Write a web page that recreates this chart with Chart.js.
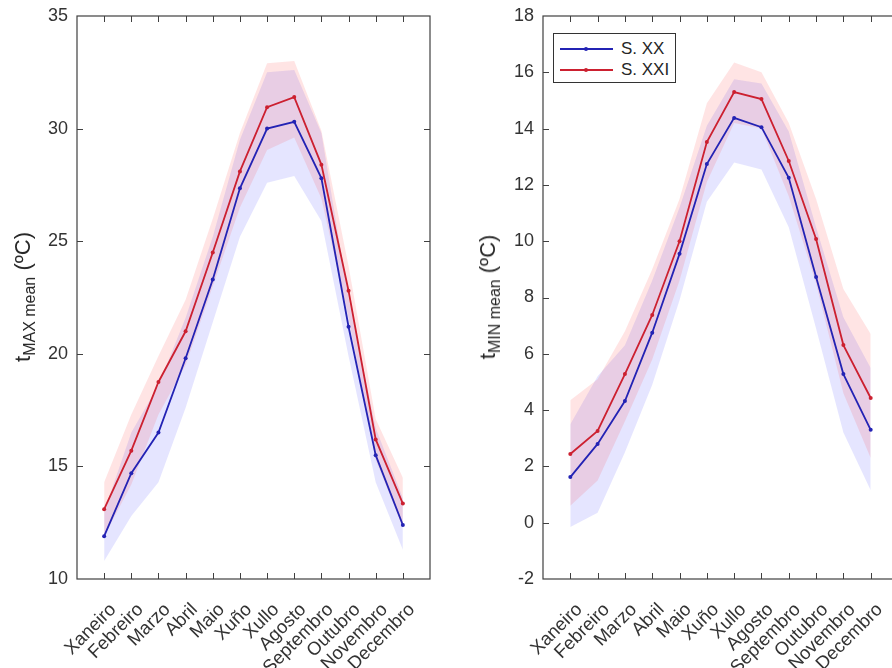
<!DOCTYPE html>
<html>
<head>
<meta charset="utf-8">
<script src="https://cdn.jsdelivr.net/npm/chart.js@4/dist/chart.umd.min.js"></script>
<style>
  html, body { margin:0; padding:0; background:#fff; overflow:hidden; width:892px; height:668px; }
  body { position:relative; font-family:"Liberation Sans", Arial, sans-serif; }
  canvas { position:absolute; top:0; }
  .ytitle { position:absolute; white-space:nowrap; color:#262626; font-size:22px;
            transform: translate(-50%,-50%) rotate(-90deg); line-height:1; }
  .ytitle sub { font-size:16px; vertical-align:-5px; }
  #legend { position:absolute; left:553px; top:33px; width:121px; height:48px;
            border:1px solid #333; background:#fff; font-size:17px; color:#262626; }
  .row { position:absolute; left:0; height:20px; width:121px; }
  .row .ln { position:absolute; left:6px; top:9px; width:53px; height:2px; }
  .row .dot { position:absolute; left:24px; top:-1px; width:4px; height:4px; border-radius:2px; }
  .row .tx { position:absolute; left:67px; top:0px; }
</style>
</head>
<body>
<canvas id="c1" width="446" height="668" style="left:0px"></canvas>
<canvas id="c2" width="460" height="668" style="left:446px"></canvas>
<div class="ytitle" style="left:25px; top:297px;">t<sub>MAX mean</sub> (ºC)</div>
<div class="ytitle" style="left:490px; top:297px;">t<sub>MIN mean</sub> (ºC)</div>
<div id="legend">
  <div class="row" style="top:5px"><div class="ln" style="background:#2323b4"><div class="dot" style="background:#2323b4"></div></div><span class="tx">S. XX</span></div>
  <div class="row" style="top:26px"><div class="ln" style="background:#cc2030"><div class="dot" style="background:#cc2030"></div></div><span class="tx">S. XXI</span></div>
</div>
<script>
// ---- data ----
const months = ['Xaneiro','Febreiro','Marzo','Abril','Maio','Xuño','Xullo','Agosto','Septembro','Outubro','Novembro','Decembro'];

const tmaxXX      = [11.9, 14.7, 16.5, 19.8, 23.3, 27.35, 30.0, 30.3, 27.8, 21.2, 15.5, 12.4];
const tmaxXXlow   = [10.8, 12.8, 14.3, 17.6, 21.4, 25.2, 27.6, 27.9, 25.9, 19.9, 14.3, 11.3];
const tmaxXXhigh  = [13.0, 16.5, 18.6, 21.6, 25.2, 29.5, 32.5, 32.6, 29.8, 22.5, 16.7, 13.6];
const tmaxXXI     = [13.1, 15.7, 18.75, 21.0, 24.5, 28.1, 30.95, 31.4, 28.4, 22.8, 16.2, 13.35];
const tmaxXXIlow  = [11.9, 14.2, 17.3, 19.5, 23.0, 26.5, 29.05, 29.6, 26.9, 21.6, 15.3, 12.3];
const tmaxXXIhigh = [14.3, 17.3, 19.9, 22.4, 26.0, 29.8, 32.9, 33.0, 29.9, 23.9, 17.1, 14.5];

const tminXX      = [1.62, 2.8, 4.32, 6.75, 9.55, 12.74, 14.38, 14.05, 12.25, 8.73, 5.28, 3.3];
const tminXXlow   = [-0.15, 0.35, 2.5, 4.9, 7.9, 11.4, 12.8, 12.55, 10.5, 6.9, 3.2, 1.15];
const tminXXhigh  = [3.5, 5.2, 6.3, 8.6, 11.2, 14.1, 15.75, 15.6, 13.9, 10.5, 7.3, 5.5];
const tminXXI     = [2.44, 3.26, 5.28, 7.38, 10.0, 13.52, 15.3, 15.05, 12.85, 10.08, 6.31, 4.43];
const tminXXIlow  = [0.6, 1.5, 3.6, 5.8, 8.6, 12.1, 14.2, 14.0, 11.6, 8.5, 4.6, 2.3];
const tminXXIhigh = [4.35, 5.1, 6.8, 9.0, 11.5, 14.9, 16.35, 16.0, 14.2, 11.5, 8.3, 6.7];

const tmaxTicks = {min:10, max:35, step:5};
const tminTicks = {min:-2, max:18, step:2};

// ---- styling ----
const BLUE = '#2323b4', RED = '#cc2030';
const BLUE_BAND = 'rgba(40,40,255,0.12)', RED_BAND = 'rgba(255,30,30,0.12)';
const AXIS = '#404040', TXT = '#333333';
const FAM = '"Liberation Sans", Arial, sans-serif';

function pts(arr){ return arr.map((v,i)=>({x:i+1, y:v})); }

function band(hi, lo, color, order){
  return [
    {data:pts(hi), borderWidth:0, pointRadius:0, fill:'+1', backgroundColor:color, order:order},
    {data:pts(lo), borderWidth:0, pointRadius:0, fill:false, order:order+1}
  ];
}
function line(arr, color, order){
  return {data:pts(arr), borderColor:color, backgroundColor:color, borderWidth:1.8,
          pointRadius:2, pointHoverRadius:2, pointBackgroundColor:color, pointBorderWidth:0,
          fill:false, tension:0, order:order};
}

// MATLAB-like box with inward tick marks, positioned through the chart's own scales
const boxPlugin = {
  id:'boxTicks',
  afterDraw(chart){
    const {ctx, chartArea:a, scales:{x, y}} = chart;
    const L = 6;
    ctx.save();
    ctx.strokeStyle = AXIS; ctx.lineWidth = 1.2;
    ctx.strokeRect(a.left, a.top, a.right - a.left, a.bottom - a.top);
    ctx.lineWidth = 1;
    ctx.beginPath();
    x.ticks.forEach(t => {
      if (t.value <= x.min || t.value >= x.max) return;
      const px = Math.round(x.getPixelForValue(t.value)) + 0.5;
      ctx.moveTo(px, a.bottom); ctx.lineTo(px, a.bottom - L);
      ctx.moveTo(px, a.top); ctx.lineTo(px, a.top + L);
    });
    y.ticks.forEach(t => {
      if (t.value <= y.min || t.value >= y.max) return;
      const py = Math.round(y.getPixelForValue(t.value)) + 0.5;
      ctx.moveTo(a.left, py); ctx.lineTo(a.left + L, py);
      ctx.moveTo(a.right, py); ctx.lineTo(a.right - L, py);
    });
    ctx.stroke();
    ctx.restore();
  }
};

function zeroPad(s){ s.paddingLeft = 0; s.paddingRight = 0; s.paddingTop = 0; s.paddingBottom = 0; }

function makeChart(id, yt, sXX, sXXlo, sXXhi, sXXI, sXXIlo, sXXIhi, leftW, rightPad){
  const datasets = [
    ...band(sXXhi, sXXlo, BLUE_BAND, 20),
    ...band(sXXIhi, sXXIlo, RED_BAND, 10),
    line(sXX, BLUE, 2),
    line(sXXI, RED, 1)
  ];
  return new Chart(document.getElementById(id), {
    type:'line',
    data:{datasets},
    plugins:[boxPlugin],
    options:{
      responsive:false, animation:false, devicePixelRatio:1,
      layout:{padding:{left:0, top:16, right:rightPad, bottom:0}},
      plugins:{legend:{display:false}, tooltip:{enabled:false}},
      scales:{
        x:{type:'linear', position:'bottom', min:0, max:13,
           grid:{display:false, drawTicks:false}, border:{display:false},
           ticks:{stepSize:1, autoSkip:false, maxRotation:45, minRotation:45, padding:20, labelOffset:9,
                  font:{family:FAM, size:18.5}, color:TXT, callback:(v)=>months[v-1] || ''},
           afterFit:(s)=>{ s.height = 89; zeroPad(s); }},
        y:{type:'linear', position:'left', min:yt.min, max:yt.max,
           grid:{display:false, drawTicks:false}, border:{display:false},
           ticks:{stepSize:yt.step, padding:9, font:{family:FAM, size:18}, color:TXT},
           afterFit:(s)=>{ s.width = leftW; zeroPad(s); }}
      }
    }
  });
}

makeChart('c1', tmaxTicks, tmaxXX, tmaxXXlow, tmaxXXhigh, tmaxXXI, tmaxXXIlow, tmaxXXIhigh, 77, 16);
makeChart('c2', tminTicks, tminXX, tminXXlow, tminXXhigh, tminXXI, tminXXIlow, tminXXIhigh, 97, 8);
</script>
</body>
</html>
